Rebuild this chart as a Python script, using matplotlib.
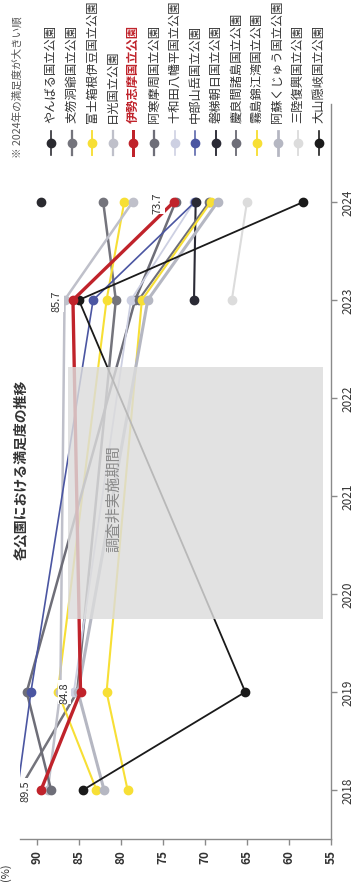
import numpy as np
import matplotlib.pyplot as plt
from matplotlib.lines import Line2D
from matplotlib.patches import Rectangle

plt.rcParams['font.family'] = ['Noto Sans CJK JP', 'DejaVu Sans']
NUM_FONT = ['Liberation Sans Narrow', 'Noto Sans CJK JP', 'DejaVu Sans']

nan = np.nan
years = [2018, 2019, 2023, 2024]

# parks in order of 2024 satisfaction
parks = [
    'やんばる国立公園', '支笏洞爺国立公園', '富士箱根伊豆国立公園', '日光国立公園',
    '伊勢志摩国立公園', '阿寒摩周国立公園', '十和田八幡平国立公園', '中部山岳国立公園',
    '磐梯朝日国立公園', '慶良間諸島国立公園', '霧島錦江湾国立公園', '阿蘇くじゅう国立公園',
    '三陸復興国立公園', '大山隠岐国立公園',
]
yanbaru = [nan, nan, nan, 89.5]
shikotsu = [92.1, 85.2, 80.6, 82.1]
fuji = [82.9, 87.5, 81.7, 79.6]
nikko = [88.7, 87.2, 86.7, 78.6]
ise = [89.5, 84.8, 85.7, 73.7]
akan = [88.3, 91.2, 78.3, 73.5]
towada = [nan, 85.6, 78.8, 71.3]
chubu = [92.3, 90.7, 83.3, 71.2]
bandai = [nan, nan, 71.3, 71.1]
kerama = [nan, nan, 77.9, 69.5]
kirishima = [79.2, 81.7, 77.5, 69.3]
aso = [82.0, 85.1, 76.8, 68.5]
sanriku = [nan, nan, 66.8, 65.0]
daisen = [84.5, 65.2, 85.0, 58.3]
values = [yanbaru, shikotsu, fuji, nikko, ise, akan, towada, chubu,
          bandai, kerama, kirishima, aso, sanriku, daisen]

colors = ['#2a2a30', '#74747c', '#f7df35', '#bfc0ca', '#c0232b', '#6e6e78', '#cdd0e2',
          '#4b56a2', '#2a2a35', '#6e6e78', '#f7df35', '#b5b7c2', '#dcdcdc', '#1a1a1a']
widths = [1.3, 1.8, 1.5, 1.8, 2.4, 1.8, 1.3, 1.2, 1.5, 1.5, 1.5, 2.2, 1.5, 1.3]

gap_years = (2019.74, 2022.32)
gap_values = (55.9, 86.3)

W, H = 353, 887
fig = plt.figure(figsize=(W / 100, H / 100), dpi=100)

# rotated chart: x = satisfaction (inverted), y = year
ax = fig.add_axes([20 / W, (H - 840) / H, (331 - 20) / W, (840 - 105) / H])
ax.set_xlim(92, 55)
ax.set_ylim(2017.5, 2025.0)

for i, (name, v) in enumerate(zip(parks, values)):
    z = 5 if name == '伊勢志摩国立公園' else 3
    if name == '大山隠岐国立公園':
        z = 4
    ax.plot(v, years, color=colors[i], lw=widths[i], marker='o', ms=6,
            solid_capstyle='round', zorder=z)

ax.add_patch(Rectangle((gap_values[1], gap_years[0]), gap_values[0] - gap_values[1],
                       gap_years[1] - gap_years[0], facecolor='#dcdcdc', alpha=0.82,
                       edgecolor='none', zorder=6))
ax.text(80.8, 2020.98, '調査非実施期間', rotation=90, ha='center', va='center',
        fontsize=11, color='#8a8a8a', zorder=7)

# labels for highlighted park
for yr, val in zip(years, ise):
    ax.text(val + 1.9, yr, f'{val:.1f}', rotation=90, ha='center', va='center',
            fontsize=8, color='#333333', family=NUM_FONT, zorder=8,
            bbox=dict(boxstyle='square,pad=0.15', fc='white', ec='none'))

for s in ['left', 'top']:
    ax.spines[s].set_visible(False)
for s in ['bottom', 'right']:
    ax.spines[s].set_color('#8a8a8a')
    ax.spines[s].set_linewidth(1.0)

ax.set_xticks([90, 85, 80, 75, 70, 65, 60, 55])
ax.set_yticks([2018, 2019, 2020, 2021, 2022, 2023, 2024])
ax.yaxis.tick_right()
ax.tick_params(axis='both', colors='#8a8a8a', length=4, width=1)
for lab in ax.get_xticklabels():
    lab.set_rotation(90)
    lab.set_color('#333333')
    lab.set_fontsize(8.5)
    lab.set_family(NUM_FONT)
    lab.set_fontweight('bold')
for lab in ax.get_yticklabels():
    lab.set_rotation(90)
    lab.set_color('#333333')
    lab.set_fontsize(8.5)
    lab.set_family(NUM_FONT)
    lab.set_va('center')

fig.text(6 / W, 1 - 872 / H, '(%)', rotation=90, ha='center', va='center',
         fontsize=8, color='#333333')

fig.text(21 / W, 1 - 470 / H, '各公園における満足度の推移', rotation=90,
         ha='center', va='center', fontsize=10, fontweight='bold', color='#333333')

fig.text(17 / W, 1 - 158 / H, '※ 2024年の満足度が大きい順', rotation=90,
         ha='center', va='bottom', fontsize=7.6, color='#555555')

# legend
for i, name in enumerate(parks):
    xp = (51 + i * 20.6) / W
    fig.add_artist(Line2D([xp, xp], [1 - 132 / H, 1 - 156 / H], color=colors[i],
                          lw=widths[i] * 0.9, transform=fig.transFigure))
    fig.add_artist(Line2D([xp], [1 - 144 / H], color=colors[i], marker='o', ms=6,
                          transform=fig.transFigure))
    hl = name == '伊勢志摩国立公園'
    fig.text(xp, 1 - 123 / H, name, rotation=90, ha='center', va='bottom',
             fontsize=8.8, color='#c0232b' if hl else '#333333',
             fontweight='bold' if hl else 'normal')

fig.savefig('out.png', dpi=100)
